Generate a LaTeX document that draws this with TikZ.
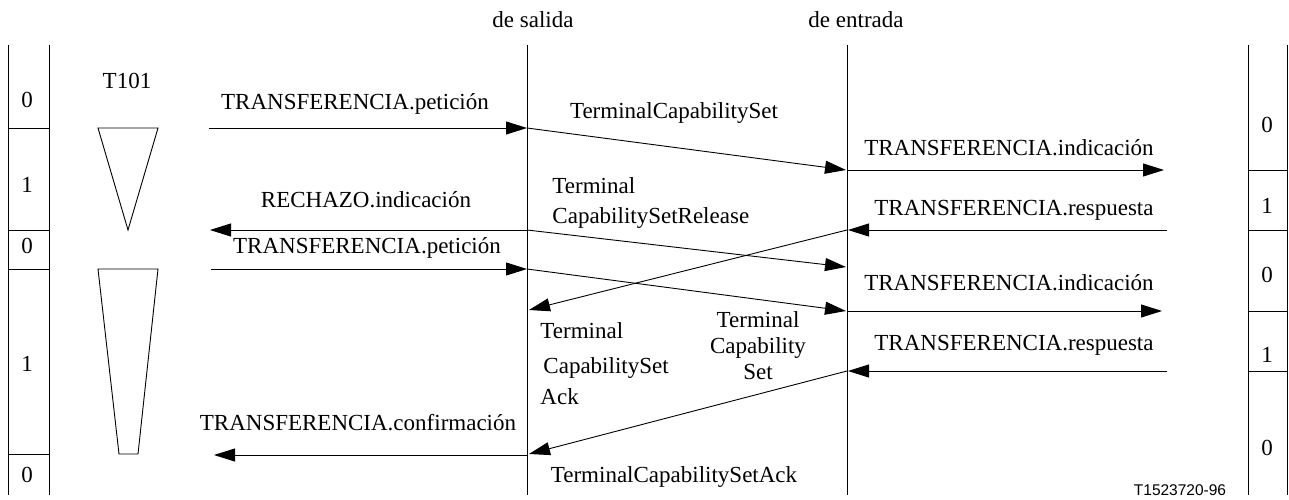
\documentclass[tikz,border=0pt]{standalone}
\usepackage{fontspec}
\setmainfont{Liberation Serif}
\newfontfamily\figsans{Liberation Sans}
\usetikzlibrary{arrows.meta}
\begin{document}
\begin{tikzpicture}[x=1pt,y=-1pt,line width=0.9pt,
  txt/.style={font=\fontsize{23}{27}\selectfont,inner sep=0pt,anchor=base},
  txtl/.style={txt,anchor=base west},
  msg/.style={-{Triangle[length=21pt,width=13pt]}},
  colline/.style={line width=0.9pt}]
\useasboundingbox (0,0) rectangle (1289,500);

% left state column
\draw[colline] (8,45) -- (8,495);
\draw[colline] (49,45) -- (49,495);
\foreach \yy in {128,230,269,454} \draw[colline] (8,\yy) -- (49,\yy);
\node[txt] (ls1) at (27,108) {0};
\node[txt] (ls2) at (27,192) {1};
\node[txt] (ls3) at (27,253) {0};
\node[txt] (ls4) at (27,371) {1};
\node[txt] (ls5) at (27,482) {0};

% right state column
\draw[colline] (1248,45) -- (1248,495);
\draw[colline] (1287,45) -- (1287,495);
\foreach \yy in {170,230,311,371} \draw[colline] (1248,\yy) -- (1287,\yy);
\node[txt] (rs1) at (1267,132) {0};
\node[txt] (rs2) at (1267,213) {1};
\node[txt] (rs3) at (1267,282) {0};
\node[txt] (rs4) at (1267,362) {1};
\node[txt] (rs5) at (1267,455) {0};

% timer T101
\node[txt] (t101) at (127,89) {T101};
\draw (98,128) -- (158,128) -- (128,230) -- cycle;
\draw (98,269) -- (158,269) -- (138,454) -- (119,454) -- cycle;

% lifelines
\draw (527,45) -- (527,495);
\draw (847,45) -- (847,495);
\node[txt] (hs) at (533,28) {de salida};
\node[txt] (he) at (856,28) {de entrada};

% coordinates
\coordinate (a1s) at (209,128);
\coordinate (o1) at (527,128);
\coordinate (i1) at (846,170);
\coordinate (i1b) at (847,170);
\coordinate (u1) at (1164,170);
\coordinate (u2) at (1167,230);
\coordinate (i2) at (848,230);
\coordinate (i2b) at (847,230);
\coordinate (o2) at (529,310);
\coordinate (o3) at (527,230);
\coordinate (l3) at (210,230);
\coordinate (i3) at (846,267);
\coordinate (l4) at (211,269);
\coordinate (o4) at (527,269);
\coordinate (i4) at (846,311);
\coordinate (i4b) at (847,311);
\coordinate (u4) at (1162,311);
\coordinate (u5) at (1167,371);
\coordinate (i5) at (848,371);
\coordinate (i5b) at (847,371);
\coordinate (o5) at (529,454);
\coordinate (o6) at (527,455);
\coordinate (l6) at (214,455);

% messages
\draw[msg] (a1s) -- (o1);
\draw[msg] (o1) -- (i1);
\draw[msg] (i1b) -- (u1);
\draw[msg] (u2) -- (i2);
\draw[msg] (i2b) -- (o2);
\draw[msg] (o3) -- (l3);
\draw[msg] (o3) -- (i3);
\draw[msg] (l4) -- (o4);
\draw[msg] (o4) -- (i4);
\draw[msg] (i4b) -- (u4);
\draw[msg] (u5) -- (i5);
\draw[msg] (i5b) -- (o5);
\draw[msg] (o6) -- (l6);

% labels
\node[txt] (m1) at (355,110) {TRANSFERENCIA.petición};
\node[txt] (m2) at (674,119) {TerminalCapabilitySet};
\node[txt] (m3) at (1009,155) {TRANSFERENCIA.indicación};
\node[txt] (m4) at (1014,215) {TRANSFERENCIA.respuesta};
\node[txt] (m6) at (366,207) {RECHAZO.indicación};
\node[txtl] (m7a) at (552,193) {Terminal};
\node[txtl] (m7b) at (552,223) {CapabilitySetRelease};
\node[txt] (m8) at (367,253) {TRANSFERENCIA.petición};
\node[txt] (m10) at (1009,290) {TRANSFERENCIA.indicación};
\node[txt] (m11) at (1014,350) {TRANSFERENCIA.respuesta};
\node[txtl] (m5a) at (540,338) {Terminal};
\node[txtl] (m5b) at (543,373) {CapabilitySet};
\node[txtl] (m5c) at (540,404) {Ack};
\node[txt] (m9a) at (758,327) {Terminal};
\node[txt] (m9b) at (758,353) {Capability};
\node[txt] (m9c) at (758,379) {Set};
\node[txt] (m12) at (674,482) {TerminalCapabilitySetAck};
\node[txt] (m13) at (358,430) {TRANSFERENCIA.confirmación};
\node[inner sep=0pt,anchor=base,font=\figsans\fontsize{15.5}{18}\selectfont] (fig) at (1180,495) {T1523720-96};
\end{tikzpicture}
\end{document}
